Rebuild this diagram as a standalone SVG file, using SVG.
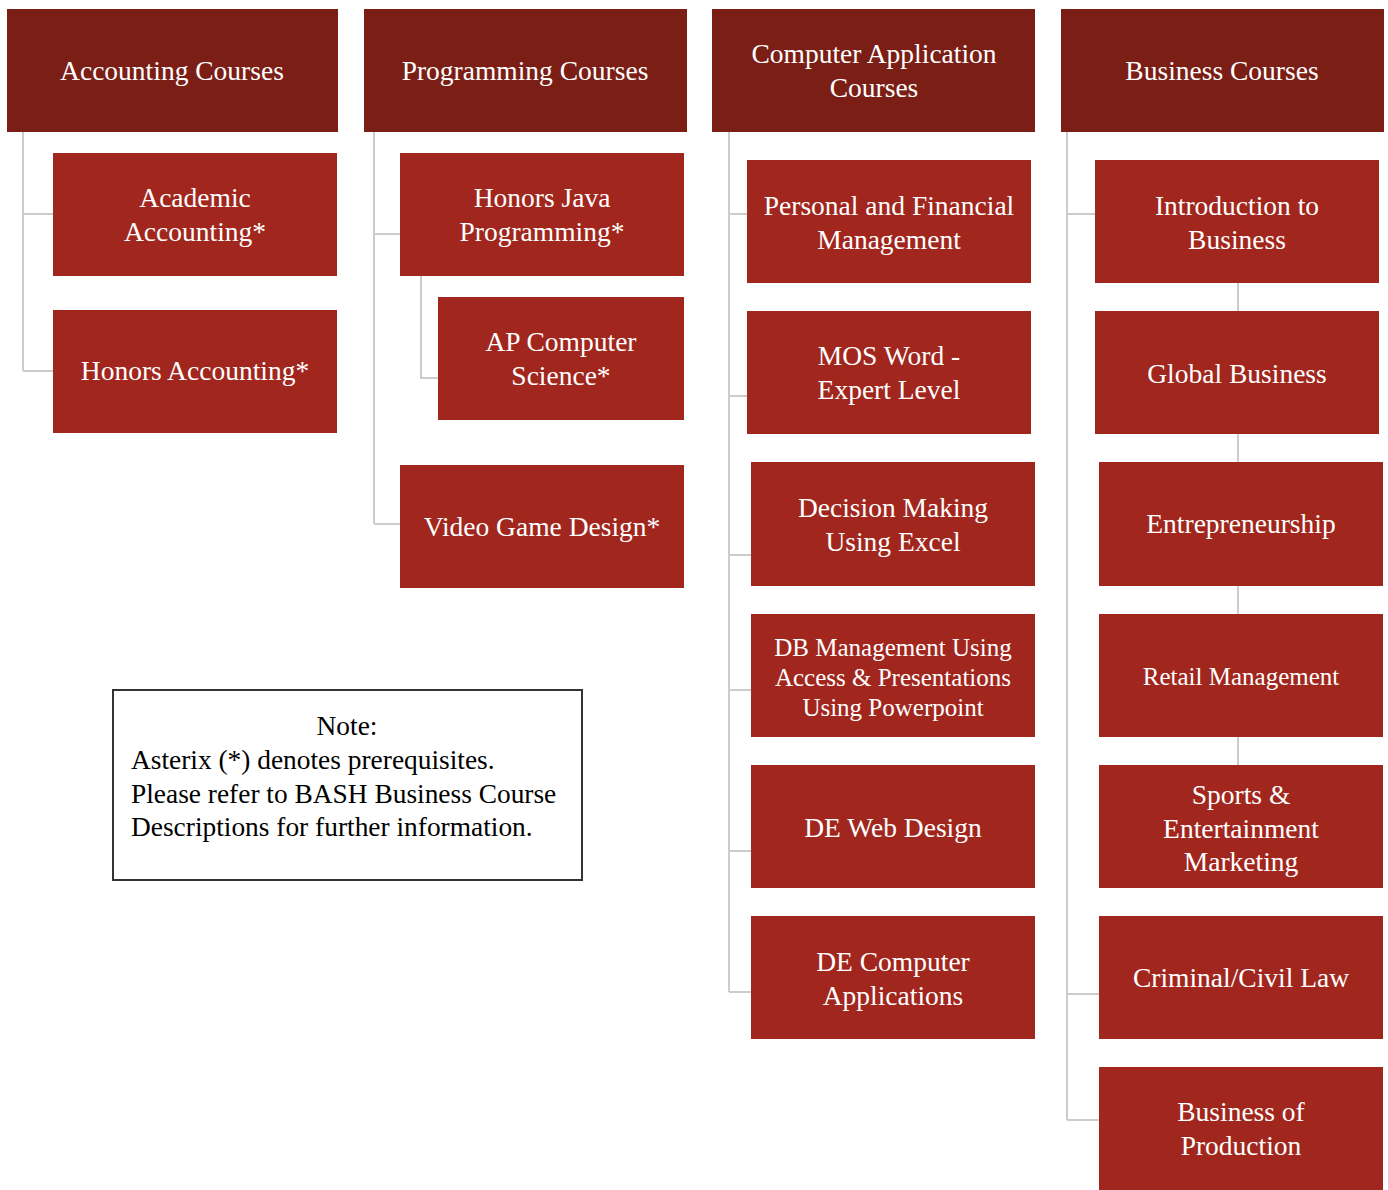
<svg xmlns="http://www.w3.org/2000/svg" width="1388" height="1190" viewBox="0 0 1388 1190" font-family="'Liberation Serif', 'DejaVu Serif', serif">
<style>
.hdr{fill:#7B1E15;}
.box{fill:#A1271E;}
text{font-family:'Liberation Serif','DejaVu Serif',serif;}
.t{font-size:27.5px;fill:#ffffff;text-anchor:middle;}
.s{font-size:25px;}
.m{font-size:25px;}
.c{fill:none;stroke:#cccccc;stroke-width:2;}
.note{fill:#ffffff;stroke:#333333;stroke-width:2;}
.nt{font-size:27.4px;fill:#000000;}
</style>
<rect width="1388" height="1190" fill="#ffffff"/>
<g id="connectors">
<path class="c" d="M23 132 V371 M23 214 H53 M23 371 H53"/>
<path class="c" d="M374 132 V524 M374 234 H400 M374 524 H400 M421 276 V378 H438"/>
<path class="c" d="M729 132 V992 M729 214 H747 M729 396 H747 M729 555 H751 M729 690 H751 M729 851 H751 M729 992 H751"/>
<path class="c" d="M1067 132 V1120 M1067 214 H1095 M1067 994 H1099 M1067 1120 H1099"/>
<path class="c" d="M1238 283 V311 M1238 434 V462 M1238 586 V614 M1238 737 V765"/>
</g>
<g id="accounting"><rect class="hdr" x="7" y="9" width="331" height="123"/><text class="t" x="172" y="80">Accounting Courses</text></g>
<g id="programming"><rect class="hdr" x="364" y="9" width="323" height="123"/><text class="t" x="525" y="80">Programming Courses</text></g>
<g id="compapp"><rect class="hdr" x="712" y="9" width="323" height="123"/><text class="t" x="874" y="63">Computer Application</text><text class="t" x="874" y="97">Courses</text></g>
<g id="business"><rect class="hdr" x="1061" y="9" width="323" height="123"/><text class="t" x="1222" y="80">Business Courses</text></g>

<g id="academic-accounting"><rect class="box" x="53" y="153" width="284" height="123"/><text class="t" x="195" y="207">Academic</text><text class="t" x="195" y="241">Accounting*</text></g>
<g id="honors-accounting"><rect class="box" x="53" y="310" width="284" height="123"/><text class="t" x="195" y="380">Honors Accounting*</text></g>

<g id="honors-java"><rect class="box" x="400" y="153" width="284" height="123"/><text class="t" x="542" y="207">Honors Java</text><text class="t" x="542" y="241">Programming*</text></g>
<g id="ap-cs"><rect class="box" x="438" y="297" width="246" height="123"/><text class="t" x="561" y="351">AP Computer</text><text class="t" x="561" y="385">Science*</text></g>
<g id="video-game"><rect class="box" x="400" y="465" width="284" height="123"/><text class="t" x="542" y="536">Video Game Design*</text></g>

<g id="personal-finance"><rect class="box" x="747" y="160" width="284" height="123"/><text class="t" x="889" y="215">Personal and Financial</text><text class="t" x="889" y="249">Management</text></g>
<g id="mos-word"><rect class="box" x="747" y="311" width="284" height="123"/><text class="t" x="889" y="365">MOS Word -</text><text class="t" x="889" y="399">Expert Level</text></g>
<g id="decision-excel"><rect class="box" x="751" y="462" width="284" height="124"/><text class="t" x="893" y="517">Decision Making</text><text class="t" x="893" y="551">Using Excel</text></g>
<g id="db-management"><rect class="box" x="751" y="614" width="284" height="123"/><text class="t s" x="893" y="656">DB Management Using</text><text class="t s" x="893" y="686">Access &amp; Presentations</text><text class="t s" x="893" y="716">Using Powerpoint</text></g>
<g id="de-web"><rect class="box" x="751" y="765" width="284" height="123"/><text class="t" x="893" y="837">DE Web Design</text></g>
<g id="de-comp"><rect class="box" x="751" y="916" width="284" height="123"/><text class="t" x="893" y="971">DE Computer</text><text class="t" x="893" y="1005">Applications</text></g>

<g id="intro-business"><rect class="box" x="1095" y="160" width="284" height="123"/><text class="t" x="1237" y="215">Introduction to</text><text class="t" x="1237" y="249">Business</text></g>
<g id="global-business"><rect class="box" x="1095" y="311" width="284" height="123"/><text class="t" x="1237" y="383">Global Business</text></g>
<g id="entrepreneurship"><rect class="box" x="1099" y="462" width="284" height="124"/><text class="t" x="1241" y="533">Entrepreneurship</text></g>
<g id="retail"><rect class="box" x="1099" y="614" width="284" height="123"/><text class="t m" x="1241" y="685">Retail Management</text></g>
<g id="sports"><rect class="box" x="1099" y="765" width="284" height="123"/><text class="t" x="1241" y="804">Sports &amp;</text><text class="t" x="1241" y="838">Entertainment</text><text class="t" x="1241" y="871">Marketing</text></g>
<g id="criminal-law"><rect class="box" x="1099" y="916" width="284" height="123"/><text class="t" x="1241" y="987">Criminal/Civil Law</text></g>
<g id="business-production"><rect class="box" x="1099" y="1067" width="284" height="123"/><text class="t" x="1241" y="1121">Business of</text><text class="t" x="1241" y="1155">Production</text></g>

<g id="note"><rect class="note" x="113" y="690" width="469" height="190"/>
<text class="nt" x="347" y="735" text-anchor="middle">Note:</text>
<text class="nt" x="131" y="769">Asterix (*) denotes prerequisites.</text>
<text class="nt" x="131" y="803">Please refer to BASH Business Course</text>
<text class="nt" x="131" y="836">Descriptions for further information.</text>
</g>
</svg>
